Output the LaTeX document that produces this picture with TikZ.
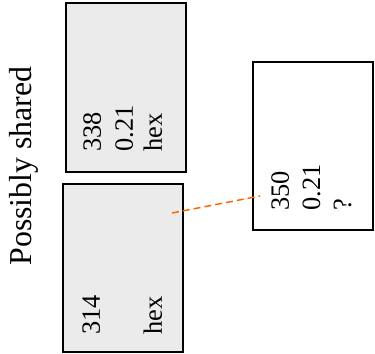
\documentclass[tikz,border=0pt]{standalone}
\usepackage{fontspec}
\setmainfont{Liberation Serif}
\begin{document}
\begin{tikzpicture}[x=1bp,y=1bp,
  card/.style={draw=black,line width=1.6bp},
  shared/.style={card,fill=black!8},
  val/.style={rotate=90,anchor=base west,inner sep=0pt,font=\fontsize{26.5}{31}\selectfont},
  title/.style={rotate=90,anchor=base,inner sep=0pt,font=\fontsize{32}{38}\selectfont},
  link/.style={draw={rgb,255:red,255;green,102;blue,0},line width=1.5bp,dash pattern=on 7bp off 4bp}]
\useasboundingbox (0,0) rectangle (375,354);
\node[title] (t) at (31,188) {Possibly shared};
\draw[shared] (66,182) rectangle (186,351);
\node[val] (a1) at (101,202) {338};
\node[val] (a2) at (133,202) {0.21};
\node[val] (a3) at (162,202) {hex};
\draw[shared] (63,2) rectangle (183,170);
\node[val] (b1) at (100,19) {314};
\node[val] (b3) at (162,19) {hex};
\draw[card,fill=white] (253,124) rectangle (373,292);
\node[val] (c1) at (289,143) {350};
\node[val] (c2) at (320,143) {0.21};
\node[val] (c3) at (351,143) {?};
\coordinate (p) at (172,141);
\coordinate (q) at (260,158);
\draw[link] (p) -- (q);
\end{tikzpicture}
\end{document}
